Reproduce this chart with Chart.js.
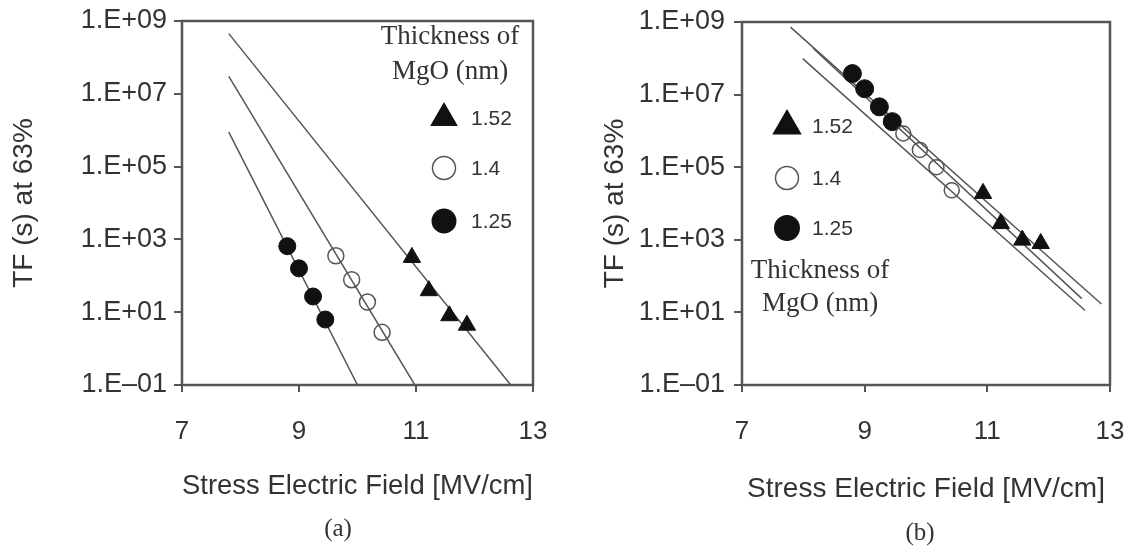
<!DOCTYPE html>
<html>
<head>
<meta charset="utf-8">
<script src="https://cdn.jsdelivr.net/npm/chart.js@4.4.1/dist/chart.umd.min.js"></script>
<style>
  body { margin: 0; background: #fff; }
  #wrap { position: relative; width: 1134px; height: 552px; }
  .panel { position: absolute; top: 0; width: 567px; height: 552px; }
  .cap { position: absolute; font-family: "Liberation Serif", serif; font-size: 25px; color: #333; transform: translate(-50%, -50%); }
</style>
</head>
<body>
<div id="wrap">
  <div class="panel" style="left:0"><canvas id="chartA" width="567" height="552"></canvas></div>
  <div class="panel" style="left:567px"><canvas id="chartB" width="567" height="552"></canvas></div>
  <div class="cap" style="left:338px;top:528px">(a)</div>
  <div class="cap" style="left:920px;top:532px">(b)</div>
</div>
<script>
// stress field (MV/cm) for each MgO thickness
const fieldFilled = [8.8, 9.0, 9.24, 9.45];
const fieldOpen = [9.63, 9.9, 10.17, 10.42];
const fieldTri = [10.93, 11.22, 11.57, 11.87];

// time to failure (s) at 63%, panel (a)
const tfFilledA = [650, 160, 27, 6.3];
const tfOpenA = [355, 78, 19, 2.8];
const tfTriA = [320, 39, 8.0, 4.4];

// panel (b)
const tfFilledB = [3.8e7, 1.45e7, 4.6e6, 1.8e6];
const tfOpenB = [8.5e5, 3.0e5, 1.0e5, 2.3e4];
const tfTriB = [1.9e4, 2.8e3, 980, 790];

// fitted lines: start/end field and TF
const fitFieldA = [[7.8, 10.0], [7.8, 10.98], [7.8, 12.62]];
const fitTfA = [[8.9e5, 0.1], [3.0e7, 0.1], [4.5e8, 0.1]];
const fitFieldB = [[7.79, 12.86], [8.16, 12.54], [7.99, 12.59]];
const fitTfB = [[7.2e8, 17], [1.9e8, 24], [9.8e7, 11.5]];

const xTicks = [7, 9, 11, 13];
const yTickValues = [0.1, 10, 1e3, 1e5, 1e7, 1e9];
const yTickLabels = ['1.E\u201301', '1.E+01', '1.E+03', '1.E+05', '1.E+07', '1.E+09'];
const thicknessLabels = ['1.52', '1.4', '1.25'];

const INK = '#333';
const LINE = '#555';

function pts(xs, ys) {
  return xs.map((x, i) => ({ x: x, y: ys[i] }));
}

function drawMark(ctx, style, x, y, r) {
  ctx.save();
  ctx.beginPath();
  if (style === 'triangle') {
    ctx.moveTo(x, y - r);
    ctx.lineTo(x + r * 0.866, y + r / 2);
    ctx.lineTo(x - r * 0.866, y + r / 2);
    ctx.closePath();
    ctx.fillStyle = '#111';
    ctx.fill();
  } else if (style === 'open') {
    ctx.arc(x, y, r, 0, Math.PI * 2);
    ctx.strokeStyle = LINE;
    ctx.lineWidth = 1.5;
    ctx.stroke();
  } else {
    ctx.arc(x, y, r, 0, Math.PI * 2);
    ctx.fillStyle = '#111';
    ctx.fill();
  }
  ctx.restore();
}

// box around the plot + the thickness key
function keyPlugin(key) {
  return {
    id: 'frameKey',
    afterDraw(chart) {
      const ctx = chart.ctx;
      const a = chart.chartArea;
      ctx.save();
      ctx.strokeStyle = LINE;
      ctx.lineWidth = 2.5;
      ctx.strokeRect(a.left, a.top, a.right - a.left, a.bottom - a.top);

      ctx.fillStyle = INK;
      ctx.textAlign = 'center';
      ctx.textBaseline = 'middle';
      ctx.font = '27px "Liberation Serif"';
      ctx.fillText('Thickness of', key.titleX, key.titleY[0]);
      ctx.fillText('MgO (nm)', key.titleX, key.titleY[1]);

      const styles = ['triangle', 'open', 'filled'];
      const radii = [key.triR, key.openR, key.circR];
      ctx.font = '21px "Liberation Sans"';
      ctx.textAlign = 'left';
      thicknessLabels.forEach((lab, i) => {
        drawMark(ctx, styles[i], key.markX, key.rows[i], radii[i]);
        ctx.fillStyle = INK;
        ctx.fillText(lab, key.textX, key.rows[i] + 1);
      });
      ctx.restore();
    }
  };
}

function makeChart(id, tf, fitF, fitT, opt) {
  const lineSets = fitF.map((f, i) => ({
    data: pts(f, fitT[i]),
    showLine: true,
    borderColor: LINE,
    borderWidth: 1.5,
    pointRadius: 0,
    fill: false,
    order: 2
  }));
  new Chart(document.getElementById(id), {
    type: 'scatter',
    data: {
      datasets: [
        { data: pts(fieldTri, tf[0]), pointStyle: 'triangle', pointRadius: opt.tri,
          backgroundColor: '#111', borderColor: '#111', borderWidth: 1, order: 1 },
        { data: pts(fieldOpen, tf[1]), pointStyle: 'circle', pointRadius: opt.open,
          backgroundColor: 'rgba(0,0,0,0)', borderColor: LINE, borderWidth: 1.5, order: 1 },
        { data: pts(fieldFilled, tf[2]), pointStyle: 'circle', pointRadius: opt.circ,
          backgroundColor: '#111', borderColor: '#111', borderWidth: 1, order: 1 }
      ].concat(lineSets)
    },
    options: {
      responsive: false,
      animation: false,
      layout: { padding: { left: 0, right: opt.padRight, top: opt.padTop, bottom: 0 } },
      plugins: { legend: { display: false }, tooltip: { enabled: false } },
      scales: {
        x: {
          type: 'linear', min: 7, max: 13,
          border: { display: false },
          grid: { drawOnChartArea: false, tickLength: 7, color: LINE, lineWidth: 2 },
          ticks: { font: { family: 'Liberation Sans', size: 26 }, color: INK, padding: 24 },
          title: { display: true, text: 'Stress Electric Field [MV/cm]', color: INK,
                   font: { family: 'Liberation Sans', size: 28 }, padding: { top: 0, bottom: opt.xTitlePad } },
          afterBuildTicks: s => { s.ticks = xTicks.map(v => ({ value: v })); },
          afterFit: s => { s.height = 552 - 385; s.paddingLeft = 0; s.paddingRight = 0; }
        },
        y: {
          type: 'logarithmic', min: 0.1, max: 1e9,
          border: { display: false },
          grid: { drawOnChartArea: false, tickLength: 8, color: LINE, lineWidth: 2 },
          ticks: {
            font: { family: 'Liberation Sans', size: 27 }, color: INK, padding: opt.yTickPad,
            callback: v => yTickLabels[yTickValues.indexOf(v)]
          },
          title: { display: true, text: 'TF (s) at 63%', color: INK,
                   font: { family: 'Liberation Sans', size: 28 }, padding: { top: opt.yTitlePad, bottom: 0 } },
          afterBuildTicks: s => { s.ticks = yTickValues.map(v => ({ value: v })); },
          afterFit: s => { s.width = opt.left; s.paddingTop = 0; s.paddingBottom = 0; }
        }
      }
    },
    plugins: [keyPlugin(opt.key)]
  });
}

makeChart('chartA', [tfTriA, tfOpenA, tfFilledA], fitFieldA, fitTfA, {
  left: 182, padRight: 34, padTop: 21, xTitlePad: 49, yTickPad: 7, yTitlePad: 7,
  tri: 10, open: 8, circ: 8.5,
  key: { titleX: 450, titleY: [37, 72], markX: 444, textX: 471, rows: [118, 168, 221],
         triR: 16, openR: 11.5, circR: 12.5 }
});

makeChart('chartB', [tfTriB, tfOpenB, tfFilledB], fitFieldB, fitTfB, {
  left: 175, padRight: 24, padTop: 22, xTitlePad: 46, yTickPad: 9, yTitlePad: 31,
  tri: 10, open: 7.5, circ: 9,
  key: { titleX: 253, titleY: [271, 304], markX: 220, textX: 245, rows: [126, 178, 228],
         triR: 17, openR: 11.5, circR: 13 }
});
</script>
</body>
</html>
